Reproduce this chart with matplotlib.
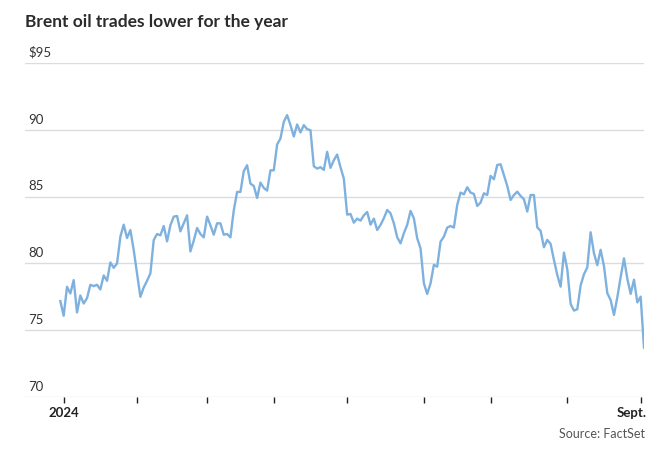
import matplotlib
matplotlib.use("Agg")
import matplotlib.pyplot as plt
import pandas as pd

# Brent closes (one per trading day)
brent = [
    77.18, 76.08, 78.25, 77.75, 78.75, 76.33, 77.60, 77.00, 77.40, 78.40,
    78.30, 78.40, 78.05, 79.10, 78.70, 80.07, 79.67, 80.00, 82.00, 82.90,
    81.90, 82.50, 81.00, 79.25, 77.50, 78.20, 78.70, 79.25, 81.75, 82.20,
    82.10, 82.80, 81.65, 82.85, 83.50, 83.55, 82.40, 83.00, 83.60, 80.90,
    81.70, 82.65, 82.20, 81.95, 83.50, 82.85, 82.15, 83.00, 83.00, 82.15,
    82.20, 81.95, 83.97, 85.35, 85.35, 86.90, 87.35, 85.97, 85.80, 84.90,
    86.05, 85.65, 85.45, 86.97, 86.97, 88.90, 89.35, 90.60, 91.10, 90.35,
    89.50, 90.40, 89.80, 90.35, 90.05, 89.97, 87.27, 87.10, 87.20, 87.00,
    88.35, 87.15, 87.72, 88.15, 87.20, 86.35, 83.65, 83.70, 83.05, 83.35,
    83.20, 83.60, 83.85, 82.90, 83.35, 82.50, 82.88, 83.38, 84.00, 83.75,
    83.00, 81.96, 81.50, 82.26, 82.88, 83.93, 83.38, 81.88, 81.13, 78.51,
    77.71, 78.51, 79.89, 79.76, 81.63, 82.00, 82.68, 82.80, 82.68, 84.38,
    85.30, 85.17, 85.70, 85.30, 85.20, 84.30, 84.55, 85.25, 85.12, 86.55,
    86.30, 87.37, 87.42, 86.62, 85.80, 84.75, 85.12, 85.37, 85.05, 84.80,
    83.88, 85.12, 85.12, 82.70, 82.43, 81.21, 81.76, 81.46, 80.26, 79.14,
    78.26, 80.81, 79.56, 76.97, 76.47, 76.57, 78.35, 79.19, 79.70, 82.33,
    80.76, 79.87, 81.02, 79.80, 77.77, 77.26, 76.14, 77.46, 78.98, 80.38,
    78.86, 77.72, 78.78, 77.08, 77.51, 73.70,
]

# trading days: weekdays, minus New Year's Day and Good Friday
dates = pd.bdate_range("2023-12-29", "2024-09-03")
dates = dates.drop(pd.to_datetime(["2024-01-01", "2024-03-29"]))
assert len(dates) == len(brent)

y_ticks = [70, 75, 80, 85, 90, 95]
y_labels = ["70", "75", "80", "85", "90", "$95"]
tick_months = [1, 2, 3, 4, 5, 6, 7, 8, 9]
x_labels = ["2024", "", "", "", "", "", "", "", "Sept."]

plt.rcParams["font.family"] = ["Lato", "DejaVu Sans"]

fig = plt.figure(figsize=(6.54, 4.51), dpi=100)
ax = fig.add_axes([0.0382, 0.1197, 0.9465, 0.7406])

idx = list(range(len(brent)))
ax.plot(idx, brent, color="#7fb1df", lw=1.7, solid_joinstyle="round", zorder=3)

ax.set_xlim(-10.6, len(brent) - 1)
ax.set_ylim(70, 95)

# horizontal grid lines with labels sitting on top of them
for val, lab in zip(y_ticks, y_labels):
    ax.axhline(val, color="#dcdcdc", lw=1.0, zorder=1)
    ax.annotate(lab, xy=(0, val), xycoords=("axes fraction", "data"),
                xytext=(2.5, 3), textcoords="offset points",
                ha="left", va="bottom", fontsize=9.5, color="#333333")

# month ticks at first trading day of each month
month_pos = [int((dates.month == m).argmax()) for m in tick_months]
ax.set_yticks([])
ax.set_xticks(month_pos)
ax.set_xticklabels([])
ax.tick_params(axis="x", length=4, width=1, color="#222222", direction="out")
for s in ax.spines.values():
    s.set_visible(False)

for pos, lab in zip(month_pos, x_labels):
    if not lab:
        continue
    ha = "right" if pos == month_pos[-1] else "center"
    dx = 4 if ha == "right" else 0
    ax.annotate(lab, xy=(pos, 0), xycoords=("data", "axes fraction"),
                xytext=(dx, -7), textcoords="offset points",
                ha=ha, va="top", fontsize=9.5, fontweight="bold", color="#222222")

fig.text(25 / 654, 1 - 22 / 451, "Brent oil trades lower for the year",
         ha="left", va="center", fontsize=12.5, fontweight="bold", color="#2b2b2b")
fig.text(645 / 654, 1 - 434 / 451, "Source: FactSet",
         ha="right", va="center", fontsize=9, color="#555555")

fig.savefig("out.png", dpi=100)
